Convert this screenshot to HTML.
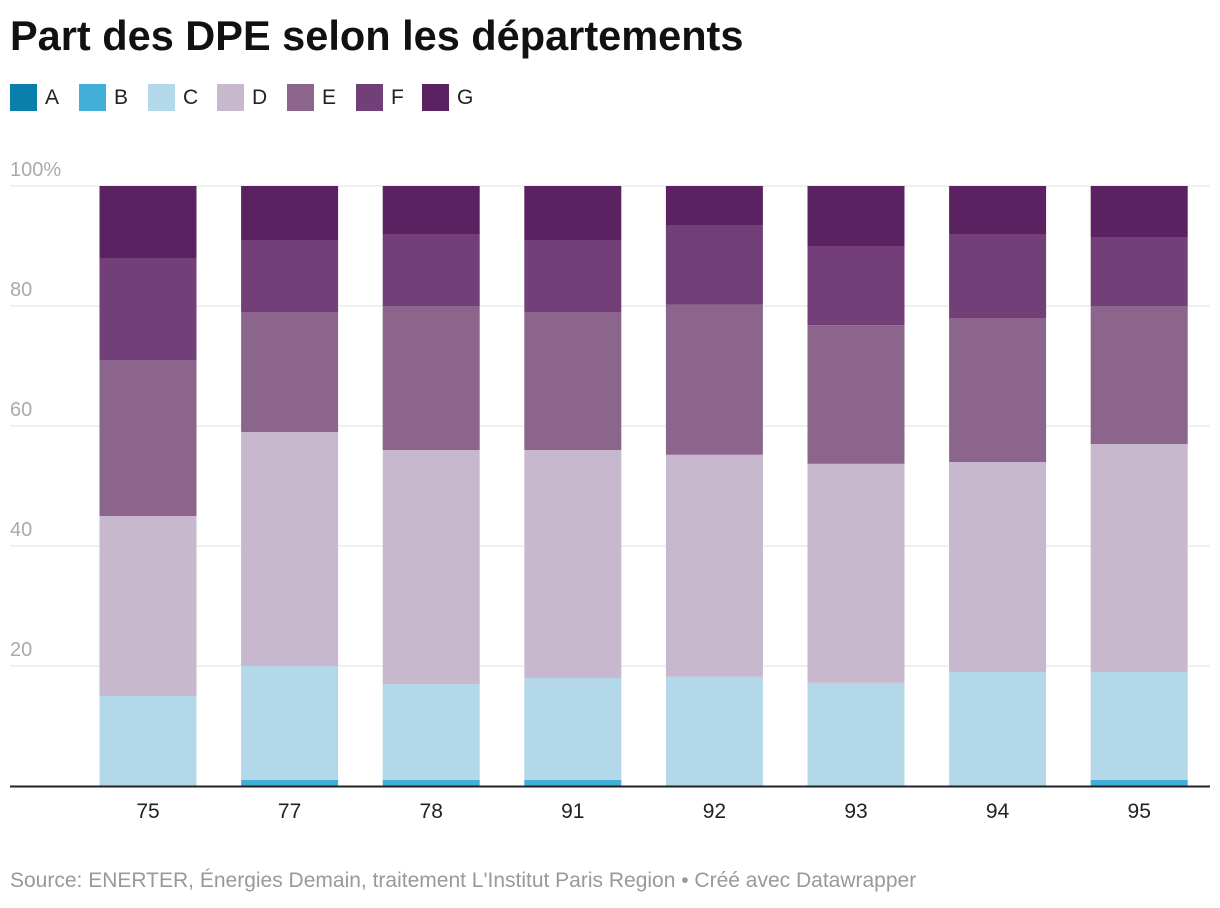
<!DOCTYPE html>
<html><head><meta charset="utf-8"><style>
body{margin:0;background:#fff;font-family:"Liberation Sans",sans-serif;}
#wrap{position:relative;width:1220px;height:908px;overflow:hidden;}
h1{position:absolute;left:10px;top:12px;margin:0;font-size:41.5px;font-weight:bold;color:#111;letter-spacing:0px;}
.leg{position:absolute;top:84px;display:flex;align-items:center;font-size:21px;color:#222;}
.leg span.sw{width:27px;height:27px;display:inline-block;margin-right:8px;}
#src{position:absolute;left:10px;top:869px;font-size:21px;color:#999;}
</style></head><body>
<div id="wrap">
<h1>Part des DPE selon les départements</h1>
<div id="legend"></div>
<svg id="svg" width="1220" height="908" style="position:absolute;left:0;top:0"></svg>
<div id="src">Source: ENERTER, Énergies Demain, traitement L'Institut Paris Region • Créé avec Datawrapper</div>
</div>
<script>
const categories=["75","77","78","91","92","93","94","95"];
const seriesNames=["A","B","C","D","E","F","G"];
const A=[0,0,0,0,0,0,0,0];
const B=[0,1,1,1,0,0,0,1];
const C=[15,19,16,17,18.2,17.2,19,18];
const D=[30,39,39,38,37,36.5,35,38];
const E=[26,20,24,23,25,23.1,24,23];
const F=[17,12,12,12,13.3,13.2,14,11.5];
const G=[12,9,8,9,6.5,10,8,8.5];
const yTicks=[0,20,40,60,80,100];
const yTickLabels=["","20","40","60","80","100%"];
const colors=["#0b7fab","#42afd8","#b2d8ea","#c7b8cd","#8c658d","#733f78","#5a2260"];
const series=[A,B,C,D,E,F,G];
const NS="http://www.w3.org/2000/svg";
const svg=document.getElementById('svg');
const y0=786,pxPer=6;
const y=v=>y0-v*pxPer;
const x=i=>148+i*141.6;
const bw=97;
function mk(t,a){const e=document.createElementNS(NS,t);for(const k in a)e.setAttribute(k,a[k]);svg.appendChild(e);return e;}
yTicks.forEach((t,i)=>{
 if(t>0){const l=mk('line',{x1:10,x2:1210,y1:y(t),y2:y(t),stroke:'#e0e0e0','stroke-width':1});
 
 }
 const tx=mk('text',{x:10,y:y(t)-10,'font-size':20,fill:'#aaa','font-family':'Liberation Sans'});
 tx.textContent=yTickLabels[i];
 
 
});
categories.forEach((c,i)=>{
 let cum=0;
 series.forEach((s,j)=>{
  const v=s[i];if(v<=0)return;
  const r=mk('rect',{x:x(i)-bw/2,y:y(cum+v),width:bw,height:v*pxPer,fill:colors[j]});
  
  
  cum+=v;
 });
 const t=mk('text',{x:x(i),y:818,'font-size':21,fill:'#222','text-anchor':'middle','font-family':'Liberation Sans'});
 t.textContent=c;
 
 
});
const base=mk('line',{x1:10,x2:1210,y1:y0+0.5,y2:y0+0.5,stroke:'#222','stroke-width':2});


const leg=document.getElementById('legend');
const lx=[10,79,148,217,287,356,422];
seriesNames.forEach((n,j)=>{
 const d=document.createElement('div');d.className='leg';d.style.left=lx[j]+'px';
 d.innerHTML='<span class="sw" style="background:'+colors[j]+'"></span>'+n;
 
 
 leg.appendChild(d);
});
</script>
</body></html>
